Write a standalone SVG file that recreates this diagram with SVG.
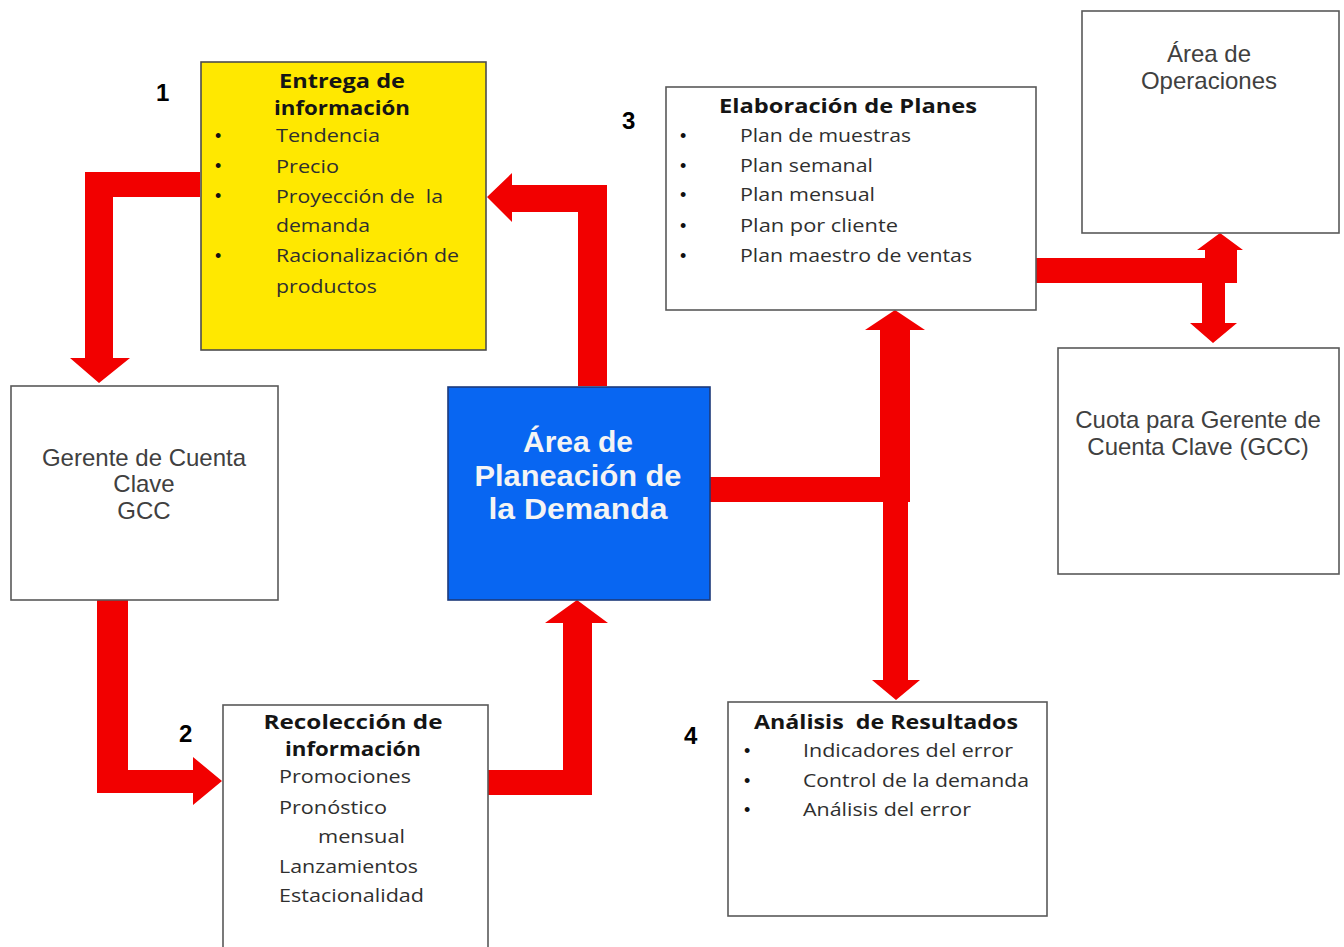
<svg xmlns="http://www.w3.org/2000/svg" width="1344" height="947" viewBox="0 0 1344 947">
  <style>
    .box { fill: #ffffff; stroke: #595959; stroke-width: 1.6; }
    .yellow { fill: #FFE800; stroke: #4d4d4d; stroke-width: 1.6; }
    .blue { fill: #0866F2; stroke: #1d3a7a; stroke-width: 1.6; }
    .arrow { fill: #F20000; stroke: none; }
    .ttl { font-family: "Open Sans", "Liberation Sans", sans-serif; font-weight: bold; font-size: 20px; fill: #151515; text-anchor: middle; }
    .itm { font-family: "Open Sans", "Liberation Sans", sans-serif; font-size: 17.5px; fill: #2f2f2f; }
    .bul { font-family: "Liberation Sans", sans-serif; font-size: 18px; fill: #111111; }
    .lbl { font-family: "Liberation Sans", Arial, sans-serif; font-size: 24px; fill: #404040; text-anchor: middle; }
    .num { font-family: "Liberation Sans", Arial, sans-serif; font-weight: bold; font-size: 24px; fill: #000000; }
    .main { font-family: "Liberation Sans", Arial, sans-serif; font-weight: bold; font-size: 30px; fill: #f4f4f4; text-anchor: middle; }
    .pre { white-space: pre; }
  </style>

  <rect x="0" y="0" width="1344" height="947" fill="#ffffff"/>

  <!-- connectors: thick block arrows -->
  <g id="connectors">
    <polygon class="arrow" points="200,172 85,172 85,358 70,358 99,383 130,358 113,358 113,197 200,197"/>
    <polygon class="arrow" points="578,386 578,212 512,212 512,222 487,197 512,173 512,185 607,185 607,386"/>
    <polygon class="arrow" points="710,477 880,477 880,330 865,330 895,310 925,330 910,330 910,502 710,502"/>
    <polygon class="arrow" points="883,502 883,680 872,680 896,700 920,680 908,680 908,502"/>
    <polygon class="arrow" points="1035,258 1205,258 1205,250 1197,250 1220,233 1243,250 1237,250 1237,283 1035,283"/>
    <polygon class="arrow" points="1202,283 1202,323 1190,323 1213,343 1237,323 1225,323 1225,283"/>
    <polygon class="arrow" points="97,600 128,600 128,770 193,770 193,757 222,781 193,805 193,793 97,793"/>
    <polygon class="arrow" points="488,770 563,770 563,623 545,623 577,600 608,623 592,623 592,795 488,795"/>
  </g>

  <!-- step numbers -->
  <g id="numbers">
    <text class="num" x="156" y="101">1</text>
    <text class="num" x="179" y="742">2</text>
    <text class="num" x="622" y="129">3</text>
    <text class="num" x="684" y="744">4</text>
  </g>

  <g id="entrega">
    <rect class="yellow" x="201" y="62" width="285" height="288"/>
    <text class="ttl" x="342" y="88" textLength="126" lengthAdjust="spacingAndGlyphs">Entrega de</text>
    <text class="ttl" x="342" y="115" textLength="136" lengthAdjust="spacingAndGlyphs">información</text>
    <text class="bul" x="215" y="142">•</text>
    <text class="bul" x="215" y="172">•</text>
    <text class="bul" x="215" y="202">•</text>
    <text class="bul" x="215" y="262">•</text>
    <text class="itm" x="276" y="142" textLength="104" lengthAdjust="spacingAndGlyphs">Tendencia</text>
    <text class="itm" x="276" y="173" textLength="63" lengthAdjust="spacingAndGlyphs">Precio</text>
    <text class="itm pre" x="276" y="203" textLength="167" lengthAdjust="spacingAndGlyphs">Proyección de  la</text>
    <text class="itm" x="276" y="232" textLength="94" lengthAdjust="spacingAndGlyphs">demanda</text>
    <text class="itm" x="276" y="262" textLength="183" lengthAdjust="spacingAndGlyphs">Racionalización de</text>
    <text class="itm" x="276" y="293" textLength="101" lengthAdjust="spacingAndGlyphs">productos</text>
  </g>

  <g id="gerente">
    <rect class="box" x="11" y="386" width="267" height="214"/>
    <text class="lbl" x="144" y="466">Gerente de Cuenta</text>
    <text class="lbl" x="144" y="492">Clave</text>
    <text class="lbl" x="144" y="519">GCC</text>
  </g>

  <g id="planeacion">
    <rect class="blue" x="448" y="387" width="262" height="213"/>
    <text class="main" x="578" y="452">Área de</text>
    <text class="main" x="578" y="486" textLength="207" lengthAdjust="spacingAndGlyphs">Planeación de</text>
    <text class="main" x="578" y="519" textLength="179" lengthAdjust="spacingAndGlyphs">la Demanda</text>
  </g>

  <g id="elaboracion">
    <rect class="box" x="666" y="87" width="370" height="223"/>
    <text class="ttl" x="848" y="113" textLength="258" lengthAdjust="spacingAndGlyphs">Elaboración de Planes</text>
    <text class="bul" x="680" y="142">•</text>
    <text class="bul" x="680" y="172">•</text>
    <text class="bul" x="680" y="201">•</text>
    <text class="bul" x="680" y="232">•</text>
    <text class="bul" x="680" y="262">•</text>
    <text class="itm" x="740" y="142" textLength="171" lengthAdjust="spacingAndGlyphs">Plan de muestras</text>
    <text class="itm" x="740" y="172" textLength="133" lengthAdjust="spacingAndGlyphs">Plan semanal</text>
    <text class="itm" x="740" y="201" textLength="135" lengthAdjust="spacingAndGlyphs">Plan mensual</text>
    <text class="itm" x="740" y="232" textLength="158" lengthAdjust="spacingAndGlyphs">Plan por cliente</text>
    <text class="itm" x="740" y="262" textLength="232" lengthAdjust="spacingAndGlyphs">Plan maestro de ventas</text>
  </g>

  <g id="operaciones">
    <rect class="box" x="1082" y="11" width="257" height="222"/>
    <text class="lbl" x="1209" y="62">Área de</text>
    <text class="lbl" x="1209" y="89">Operaciones</text>
  </g>

  <g id="cuota">
    <rect class="box" x="1058" y="348" width="281" height="226"/>
    <text class="lbl" x="1198" y="428">Cuota para Gerente de</text>
    <text class="lbl" x="1198" y="455">Cuenta Clave (GCC)</text>
  </g>

  <g id="recoleccion">
    <rect class="box" x="223" y="705" width="265" height="260"/>
    <text class="ttl" x="353" y="729" textLength="179" lengthAdjust="spacingAndGlyphs">Recolección de</text>
    <text class="ttl" x="353" y="756" textLength="136" lengthAdjust="spacingAndGlyphs">información</text>
    <text class="itm" x="279" y="783" textLength="132" lengthAdjust="spacingAndGlyphs">Promociones</text>
    <text class="itm" x="279" y="814" textLength="108" lengthAdjust="spacingAndGlyphs">Pronóstico</text>
    <text class="itm" x="318" y="843" textLength="87" lengthAdjust="spacingAndGlyphs">mensual</text>
    <text class="itm" x="279" y="873" textLength="139" lengthAdjust="spacingAndGlyphs">Lanzamientos</text>
    <text class="itm" x="279" y="902" textLength="145" lengthAdjust="spacingAndGlyphs">Estacionalidad</text>
  </g>

  <g id="analisis">
    <rect class="box" x="728" y="702" width="319" height="214"/>
    <text class="ttl pre" x="886" y="729" textLength="264" lengthAdjust="spacingAndGlyphs">Análisis  de Resultados</text>
    <text class="bul" x="744" y="757">•</text>
    <text class="bul" x="744" y="787">•</text>
    <text class="bul" x="744" y="816">•</text>
    <text class="itm" x="803" y="757" textLength="210" lengthAdjust="spacingAndGlyphs">Indicadores del error</text>
    <text class="itm" x="803" y="787" textLength="226" lengthAdjust="spacingAndGlyphs">Control de la demanda</text>
    <text class="itm" x="803" y="816" textLength="168" lengthAdjust="spacingAndGlyphs">Análisis del error</text>
  </g>
</svg>
